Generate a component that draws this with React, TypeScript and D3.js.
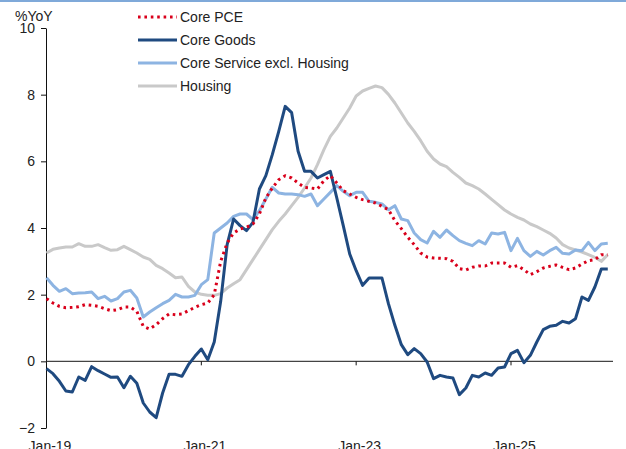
import React, { useEffect, useRef } from 'react';
import * as d3 from 'd3';

// monthly, Jan-19 onwards
const corePce = [
  1.88, 1.75, 1.65, 1.61, 1.62, 1.64, 1.7, 1.68, 1.65, 1.58, 1.52, 1.55, 1.63, 1.63, 1.5, 1.05, 0.97, 1.1,
  1.28, 1.42, 1.4, 1.42, 1.52, 1.62, 1.7, 1.75, 2.0, 3.0, 3.55, 3.85, 3.97, 4.02, 4.12, 4.42, 4.9, 5.2, 5.45,
  5.57, 5.5, 5.35, 5.22, 5.2, 5.17, 5.42, 5.57, 5.35, 5.12, 5.02, 4.92, 4.85, 4.8, 4.75, 4.65, 4.55, 4.22,
  3.98, 3.72, 3.5, 3.25, 3.13, 3.1, 3.09, 3.08, 3.0, 2.78, 2.74, 2.82, 2.86, 2.86, 2.95, 2.95, 2.95, 2.82,
  2.87, 2.75, 2.6, 2.69, 2.8, 2.85, 2.89, 2.82, 2.75, 2.8, 2.92, 3.02, 3.05, 3.2, 3.2,
];
const coreGoods = [
  -0.22, -0.37, -0.6, -0.89, -0.92, -0.47, -0.57, -0.16, -0.28, -0.38, -0.48, -0.47, -0.79, -0.45, -0.66,
  -1.25, -1.52, -1.69, -0.95, -0.39, -0.39, -0.45, -0.1, 0.15, 0.37, 0.05, 0.58, 1.8, 3.5, 4.27, 4.07, 3.92,
  4.17, 5.17, 5.57, 6.2, 6.9, 7.65, 7.46, 6.3, 5.7, 5.7, 5.5, 5.6, 5.7, 4.9, 4.07, 3.22, 2.72, 2.28, 2.5, 2.5,
  2.5, 1.73, 1.08, 0.5, 0.2, 0.38, 0.23, -0.02, -0.52, -0.42, -0.47, -0.5, -1.0, -0.8, -0.42, -0.47, -0.35,
  -0.42, -0.2, -0.17, 0.23, 0.33, -0.04, 0.18, 0.58, 0.95, 1.05, 1.08, 1.2, 1.15, 1.28, 1.93, 1.83, 2.23,
  2.77, 2.77,
];
const coreServiceExHousing = [
  2.51, 2.28, 2.1, 2.18, 2.03, 2.05, 2.06, 2.08, 1.88, 1.95, 1.81, 1.88, 2.08, 2.13, 1.9, 1.33, 1.48, 1.61,
  1.73, 1.83, 2.01, 1.93, 1.93, 1.98, 2.3, 2.45, 3.85, 4.0, 4.15, 4.35, 4.42, 4.42, 4.25, 4.52, 4.87, 5.22,
  5.05, 5.02, 5.02, 5.0, 4.95, 5.02, 4.67, 4.87, 5.07, 5.27, 5.1, 4.97, 5.07, 5.07, 4.8, 4.77, 4.72, 4.55,
  4.67, 4.27, 4.22, 3.85, 3.65, 3.55, 3.9, 3.72, 3.94, 3.77, 3.62, 3.54, 3.47, 3.62, 3.52, 3.85, 3.82, 3.87,
  3.32, 3.69, 3.32, 3.15, 3.3, 3.19, 3.32, 3.42, 3.24, 3.22, 3.34, 3.32, 3.57, 3.32, 3.52, 3.54,
];
const housing = [
  3.25, 3.36, 3.4, 3.43, 3.43, 3.53, 3.45, 3.45, 3.5, 3.41, 3.33, 3.35, 3.45, 3.35, 3.25, 3.13, 3.06, 2.88,
  2.78, 2.65, 2.51, 2.53, 2.25, 2.08, 2.01, 1.98, 1.98, 2.03, 2.2, 2.33, 2.45, 2.75, 3.05, 3.35, 3.65, 3.95,
  4.2, 4.42, 4.67, 4.92, 5.2, 5.5, 5.9, 6.35, 6.75, 7.0, 7.3, 7.6, 7.96, 8.11, 8.19, 8.26, 8.21, 8.01, 7.75,
  7.45, 7.15, 6.9, 6.62, 6.3, 6.07, 5.92, 5.84, 5.67, 5.52, 5.35, 5.27, 5.17, 5.02, 4.86, 4.7, 4.54, 4.42,
  4.32, 4.24, 4.12, 4.04, 3.94, 3.84, 3.7, 3.5, 3.4, 3.34, 3.28, 3.2, 3.12, 3.0, 3.2,
];

const xTickMonths = [0, 24, 48, 72];
const xTickLabels = ['Jan-19', 'Jan-21', 'Jan-23', 'Jan-25'];
const yTicks = [-2, 0, 2, 4, 6, 8, 10];

const width = 626,
  height = 449;

function App() {
  const svgRef = useRef(null);
  useEffect(() => {
    const svg = d3.select(svgRef.current);
    svg.selectAll('*').remove();
    const font = "'Liberation Sans', Arial, sans-serif";

    var x = d3.scaleLinear().domain([0, 72]).range([46.5, 511]);
    var y = d3.scaleLinear().domain([-2, 10]).range([428, 28]);

    // top rule
    svg
      .append('line')
      .attr('x1', 0)
      .attr('x2', width)
      .attr('y1', 1)
      .attr('y2', 1)
      .attr('stroke', '#7fa9d9')
      .attr('stroke-width', 2);

    // y axis
    svg
      .append('g')
      .attr('transform', 'translate(46,0)')
      .call(d3.axisLeft(y).tickValues(yTicks).tickSize(5).tickPadding(6).tickSizeOuter(0))
      .call(g => g.selectAll('text').attr('font-size', 14).attr('font-family', font).attr('fill', '#222'))
      .call(g => g.selectAll('line,path').attr('stroke', '#111'));

    svg
      .append('text')
      .attr('x', 15)
      .attr('y', 21)
      .attr('font-size', 14)
      .attr('font-family', font)
      .attr('fill', '#222')
      .text('%YoY');

    // zero line acts as x axis
    svg
      .append('line')
      .attr('x1', 46)
      .attr('x2', 613)
      .attr('y1', y(0))
      .attr('y2', y(0))
      .attr('stroke', '#444')
      .attr('stroke-width', 1.3);
    svg
      .selectAll('.xtick')
      .data(xTickMonths)
      .enter()
      .append('line')
      .attr('x1', d => x(d))
      .attr('x2', d => x(d))
      .attr('y1', y(0))
      .attr('y2', y(0) + 4)
      .attr('stroke', '#111');
    svg
      .selectAll('.xlab')
      .data(xTickMonths)
      .enter()
      .append('text')
      .attr('x', d => x(d) + 3.5)
      .attr('y', 451)
      .attr('text-anchor', 'middle')
      .attr('font-size', 14)
      .attr('font-family', font)
      .attr('fill', '#222')
      .text((d, i) => xTickLabels[i]);

    const line = d3
      .line<number>()
      .x((d, i) => x(i))
      .y(d => y(d));

    const series = [
      { name: 'Housing', values: housing, color: '#c9c9c9', width: 3, dash: null },
      { name: 'Core Service excl. Housing', values: coreServiceExHousing, color: '#8db4e2', width: 3, dash: null },
      { name: 'Core Goods', values: coreGoods, color: '#1f4a80', width: 3, dash: null },
      { name: 'Core PCE', values: corePce, color: '#d9001b', width: 3, dash: '2.6 3.8' },
    ];

    series.forEach(s => {
      svg
        .append('path')
        .datum(s.values)
        .attr('fill', 'none')
        .attr('stroke', s.color)
        .attr('stroke-width', s.width)
        .attr('stroke-linejoin', 'round')
        .attr('stroke-dasharray', s.dash)
        .attr('d', line);
    });

    // legend
    const legend = [series[3], series[2], series[1], series[0]];
    legend.forEach((s, i) => {
      const ly = 17 + i * 23;
      svg
        .append('line')
        .attr('x1', 138)
        .attr('x2', 177)
        .attr('y1', ly)
        .attr('y2', ly)
        .attr('stroke', s.color)
        .attr('stroke-width', s.width)
        .attr('stroke-dasharray', s.dash);
      svg
        .append('text')
        .attr('x', 180)
        .attr('y', ly + 5)
        .attr('font-size', 14)
        .attr('font-family', font)
        .attr('fill', '#222')
        .text(s.name);
    });
  }, []);
  return (
    <div style={{ position: 'absolute', left: 0, top: 0 }}>
      <svg ref={svgRef} width={width} height={height} style={{ display: 'block', background: '#fff' }} />
    </div>
  );
}

export default App;
